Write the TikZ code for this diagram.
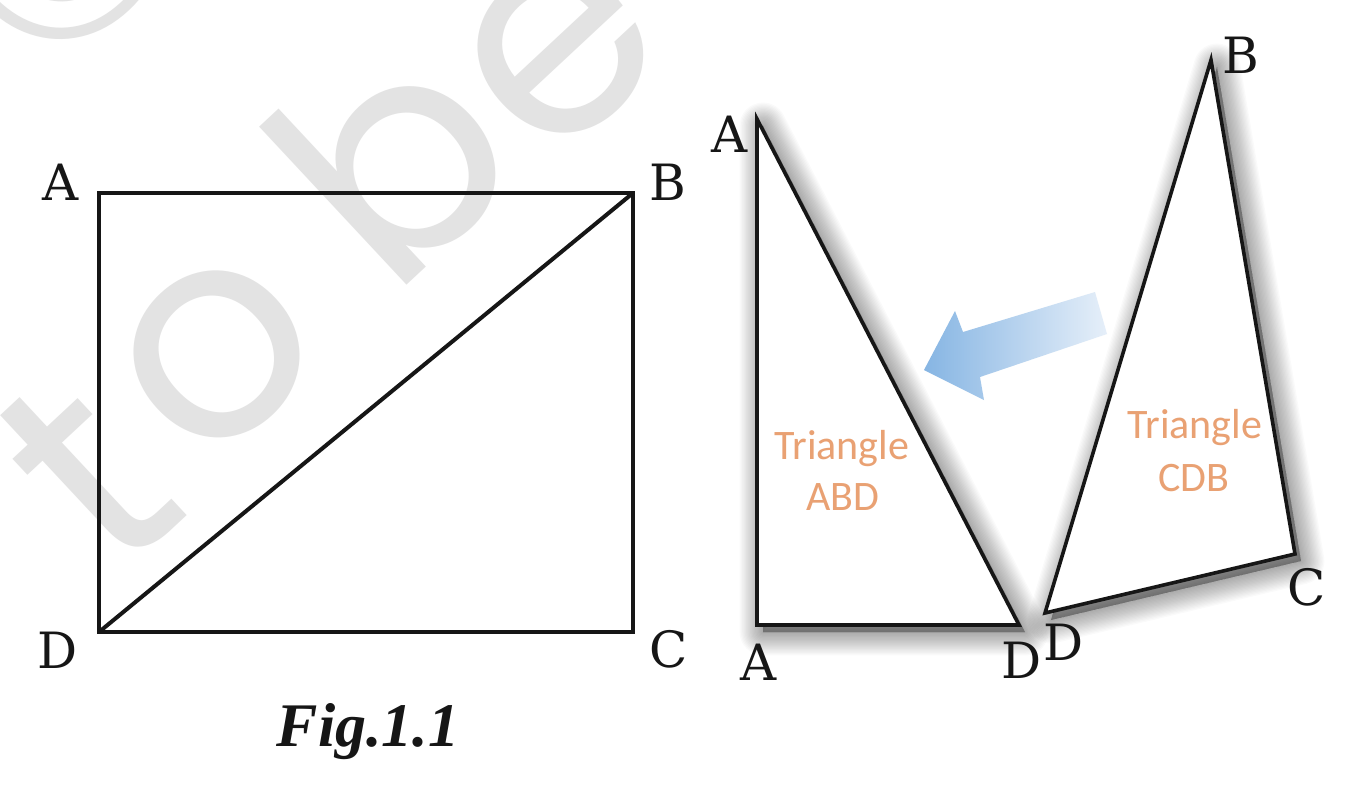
\documentclass[tikz,border=0pt]{standalone}
\usepackage{fontspec}
\newfontfamily\wmfont{Poppins}
\newfontfamily\trifont{Carlito}
\newfontfamily\lblfont{DejaVu Serif}
\newfontfamily\figfont{Liberation Serif}
\definecolor{wm}{HTML}{E3E3E3}
\definecolor{orng}{HTML}{E9A173}
\definecolor{arrowL}{HTML}{86B5E3}
\definecolor{arrowR}{HTML}{E6EFF9}
\definecolor{lin}{HTML}{161616}
\begin{document}
\begin{tikzpicture}[x=0.5pt,y=-0.5pt,
  lbl/.style={anchor=base,inner sep=0pt,text=lin,font=\lblfont\fontsize{25}{29}\selectfont},
  wmk/.style={anchor=base,inner sep=0pt,text=wm,rotate=43,font=\wmfont\fontsize{146}{150}\selectfont},
  shd/.style={fill=black,draw=black,fill opacity=0.02,draw opacity=0.02,line join=round},
  tri/.style={draw=lin,line width=1.8pt,line join=miter,fill=white},
  rectln/.style={draw=lin,line width=2pt,line join=miter},
  tlbl/.style={anchor=base,inner sep=0pt,text=orng,font=\trifont\fontsize{21}{25}\selectfont}]
\fill[white] (0,0) rectangle (1345,784);
\useasboundingbox (0,0) rectangle (1345,784);
% watermark
\node[wmk] (wmc) at (128,10) {©};
\node[wmk] (wmt) at (155,545) {t};
\node[wmk] (wmo) at (272,413) {o};
\node[wmk] (wmb) at (463,233) {b};
\node[wmk] (wme) at (615,110) {e};
% rectangle ABCD
\coordinate (A) at (99,193);
\coordinate (B) at (633,193);
\coordinate (C) at (633,632);
\coordinate (D) at (99,632);
\draw[rectln] (A) -- (B) -- (C) -- (D) -- cycle;
\draw[rectln] (D) -- (B);
\node[lbl] (lA) at (61,200) {A};
\node[lbl] (lB) at (668,200) {B};
\node[lbl] (lD) at (58,668) {D};
\node[lbl] (lC) at (669,667) {C};
\node[anchor=base,inner sep=0pt,text=lin,font=\figfont\bfseries\itshape\fontsize{31}{35}\selectfont] (fig) at (368,746) {Fig.1.1};
% triangle vertices
\coordinate (TA) at (757,119);
\coordinate (TA2) at (757,625);
\coordinate (TD) at (1019,625);
\coordinate (UB) at (1211,60);
\coordinate (UC) at (1295,554);
\coordinate (UD) at (1045,613);
% soft shadows
\begin{scope}[transform canvas={shift={(3pt,-3.5pt)}}]
\foreach \w in {1,2,...,18}{
  \path[shd,line width=\w*1.3pt] (TA) -- (TA2) -- (TD) -- cycle;
  \path[shd,line width=\w*1.3pt] (UB) -- (UC) -- (UD) -- cycle;
}
\end{scope}
% triangle ABD
\path[tri] (TA) -- (TA2) -- (TD) -- cycle;
\node[lbl] (lTA) at (730,152) {A};
\node[lbl] (lTA2) at (759,680) {A};
\node[lbl] (lTD) at (1022,678) {D};
\node[tlbl] (t1a) at (842,459) {Triangle};
\node[tlbl] (t1b) at (843,510) {ABD};
% triangle CDB
\path[tri] (UB) -- (UC) -- (UD) -- cycle;
\node[lbl] (lUB) at (1241,73) {B};
\node[lbl] (lUC) at (1307,605) {C};
\node[lbl] (lUD) at (1064,660) {D};
\node[tlbl] (t2a) at (1195,438) {Triangle};
\node[tlbl] (t2b) at (1194,491) {CDB};
% arrow
\shade[left color=arrowL,right color=arrowR]
  (924,370) -- (955,311) -- (963,332) -- (1095,292) -- (1107,334) -- (980,377) -- (984,400) -- cycle;
\end{tikzpicture}
\end{document}
